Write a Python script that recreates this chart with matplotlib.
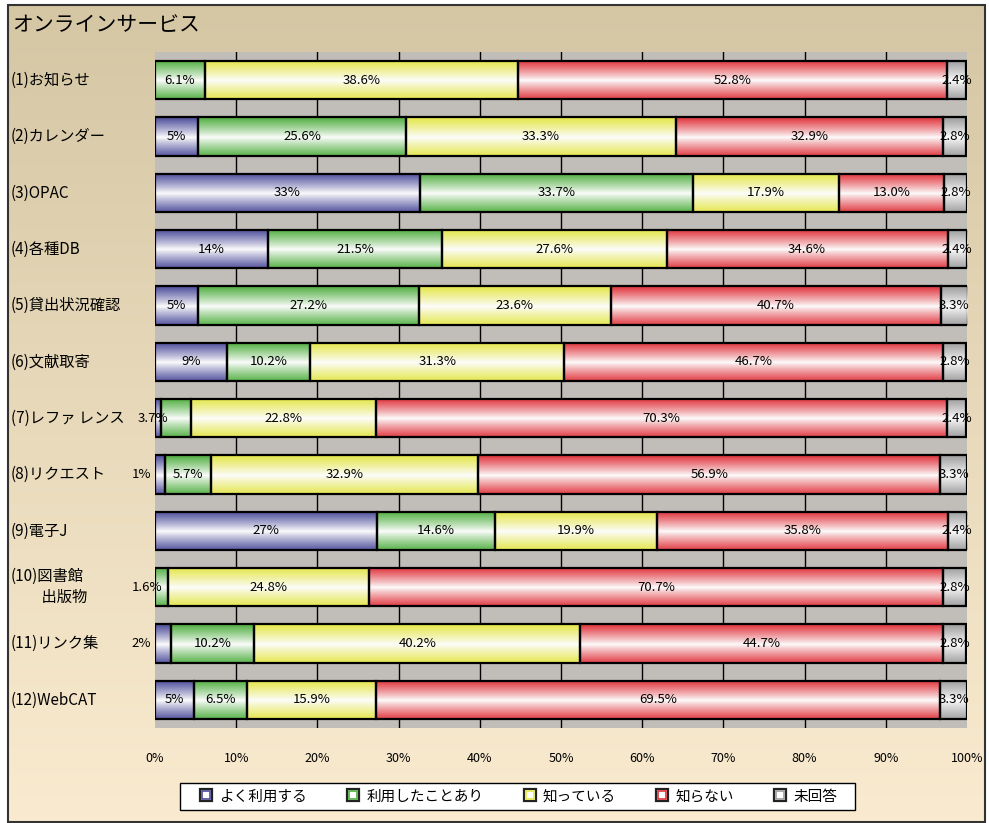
import numpy as np
import matplotlib.pyplot as plt
import matplotlib.transforms as mtransforms
from matplotlib.lines import Line2D
from matplotlib.legend_handler import HandlerTuple
from matplotlib.patches import Rectangle

plt.rcParams['font.family'] = ['Noto Sans CJK JP', 'DejaVu Sans']

title = 'オンラインサービス'
categories = ['(1)お知らせ', '(2)カレンダー', '(3)OPAC', '(4)各種DB', '(5)貸出状況確認',
              '(6)文献取寄', '(7)レファ レンス', '(8)リクエスト', '(9)電子J',
              '(10)図書館\n\u3000\u3000出版物', '(11)リンク集', '(12)WebCAT']
series = ['よく利用する', '利用したことあり', '知っている', '知らない', '未回答']

# percent per category
often = [0, 5.3, 32.6, 13.9, 5.3, 8.9, 0.7, 1.2, 27.3, 0, 2.0, 4.8]
used = [6.1, 25.6, 33.7, 21.5, 27.2, 10.2, 3.7, 5.7, 14.6, 1.6, 10.2, 6.5]
know = [38.6, 33.3, 17.9, 27.6, 23.6, 31.3, 22.8, 32.9, 19.9, 24.8, 40.2, 15.9]
dont_know = [52.8, 32.9, 13.0, 34.6, 40.7, 46.7, 70.3, 56.9, 35.8, 70.7, 44.7, 69.5]
no_answer = [2.4, 2.8, 2.8, 2.4, 3.3, 2.8, 2.4, 3.3, 2.4, 2.8, 2.8, 3.3]

values = [often, used, know, dont_know, no_answer]
colors = ['#4b4b9b', '#4fae3f', '#e4e646', '#e0323a', '#9c9c9c']
label_fmt = ['{:.0f}%', '{:.1f}%', '{:.1f}%', '{:.1f}%', '{:.1f}%']

W, H = 989, 823
fig = plt.figure(figsize=(W / 100, H / 100), dpi=100)
fig.patch.set_facecolor('white')

# background gradient inside the frame
bg = fig.add_axes([8 / W, 0, 977 / W, 818 / H], zorder=-10)
top_c = np.array([0.835, 0.780, 0.643])
bot_c = np.array([0.980, 0.922, 0.816])
t = np.linspace(0, 1, 200)[:, None, None]
grad = top_c * (1 - t) + bot_c * t
grad = np.repeat(grad, 2, axis=1)
bg.imshow(grad, aspect='auto', extent=[0, 1, 0, 1])
bg.axis('off')
fig.patches.append(Rectangle((8 / W, 0.001), 977 / W, 818 / H - 0.001, transform=fig.transFigure,
                             fill=False, edgecolor='#333333', linewidth=1.5))

ax = fig.add_axes([155 / W, 1 - 728 / H, 812 / W, 676 / H])
ax.set_facecolor('#c1bdb9')

y = np.arange(len(categories))
bar_h = 0.675


def shaded(color, n=80):
    c = np.array(plt.matplotlib.colors.to_rgb(color))
    s = np.linspace(0, 1, n)
    mix = np.clip(np.abs(s - 0.52) / 0.52, 0, 1) ** 0.9
    img = (1 - mix)[:, None] * np.ones(3) * 0.99 + mix[:, None] * c
    return img[:, None, :]


left = np.zeros(len(categories))
for j, vals in enumerate(values):
    vals = np.array(vals, dtype=float)
    bars = ax.barh(y, vals, left=left, height=bar_h, facecolor='none',
                   edgecolor='black', linewidth=1.6, zorder=4)
    img = shaded(colors[j])
    for i, b in enumerate(bars):
        if vals[i] <= 0:
            b.set_visible(False)
            continue
        x0, y0 = b.get_x(), b.get_y()
        im = ax.imshow(img, extent=[x0, x0 + vals[i], y0 + bar_h, y0], aspect='auto',
                       interpolation='bilinear', zorder=3)
        im.set_clip_path(b)
        if vals[i] < 1:
            continue
        txt = label_fmt[j].format(vals[i])
        if j < 4 and vals[i] < 4:
            xt = -0.5 if j == 0 else left[i] + 0.9
            ax.text(xt, y[i], txt, ha='right', va='center', fontsize=9.5, zorder=6)
        else:
            ax.text(left[i] + vals[i] / 2, y[i], txt, ha='center', va='center',
                    fontsize=9.5, zorder=6)
    left += vals

ax.set_xlim(0, 100)
ax.set_ylim(len(categories) - 0.5, -0.5)
ax.set_xticks(np.arange(0, 101, 10))
ax.set_xticklabels([f'{v}%' for v in range(0, 101, 10)], fontsize=9)
ax.tick_params(axis='x', length=0, pad=17)
ax.set_yticks([])
for x in range(10, 100, 10):
    ax.axvline(x, color='black', linewidth=1, zorder=1)
for s in ax.spines.values():
    s.set_visible(False)

# category names on the left
trans = mtransforms.blended_transform_factory(fig.transFigure, ax.transData)
for i, name in enumerate(categories):
    ax.text(11 / W, y[i], name, transform=trans, ha='left', va='center',
            fontsize=11, linespacing=1.35)

fig.text(12 / W, 1 - 25 / H, title, ha='left', va='center', fontsize=15)

handles = []
for c in colors:
    outer = Line2D([], [], marker='s', markersize=9, markerfacecolor='white',
                   markeredgecolor='#222222', markeredgewidth=1.6, linestyle='')
    inner = Line2D([], [], marker='s', markersize=5.5, markerfacecolor='white',
                   markeredgecolor=c, markeredgewidth=1.2, linestyle='')
    handles.append((outer, inner))
leg = fig.legend(handles, series, handler_map={tuple: HandlerTuple(ndivide=1, pad=0)},
                 loc='center', ncol=5, mode='expand',
                 bbox_to_anchor=(196 / W, 1 - 810 / H, 644 / W, 27 / H),
                 fontsize=10.5, frameon=False, handlelength=1.0, handletextpad=0.4,
                 borderaxespad=0, borderpad=0.2)
fig.patches.append(Rectangle((180 / W, 1 - 810 / H), 675 / W, 27 / H, transform=fig.transFigure,
                             facecolor='white', edgecolor='black', linewidth=1.0, zorder=0))

fig.savefig('out.png', dpi=100)
